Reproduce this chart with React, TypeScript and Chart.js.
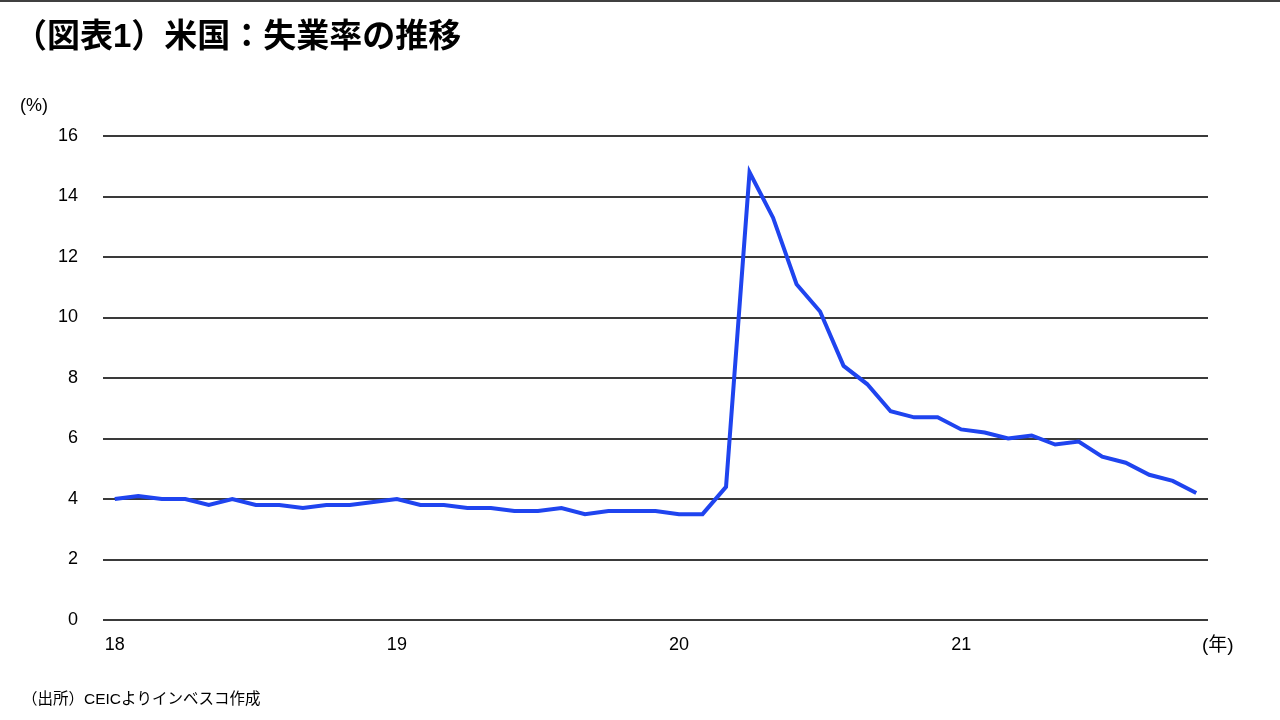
import React, { useEffect, useRef } from "react";
import { Chart, registerables } from "chart.js";

Chart.register(...registerables);

const months: string[] = [
  "2018-01","2018-02","2018-03","2018-04","2018-05","2018-06","2018-07","2018-08","2018-09","2018-10","2018-11","2018-12",
  "2019-01","2019-02","2019-03","2019-04","2019-05","2019-06","2019-07","2019-08","2019-09","2019-10","2019-11","2019-12",
  "2020-01","2020-02","2020-03","2020-04","2020-05","2020-06","2020-07","2020-08","2020-09","2020-10","2020-11","2020-12",
  "2021-01","2021-02","2021-03","2021-04","2021-05","2021-06","2021-07","2021-08","2021-09","2021-10","2021-11",
];

const unemployment: number[] = [
  4.0, 4.1, 4.0, 4.0, 3.8, 4.0, 3.8, 3.8, 3.7, 3.8, 3.8, 3.9,
  4.0, 3.8, 3.8, 3.7, 3.7, 3.6, 3.6, 3.7, 3.5, 3.6, 3.6, 3.6,
  3.5, 3.5, 4.4, 14.8, 13.3, 11.1, 10.2, 8.4, 7.8, 6.9, 6.7, 6.7,
  6.3, 6.2, 6.0, 6.1, 5.8, 5.9, 5.4, 5.2, 4.8, 4.6, 4.2,
];

const yTicks: number[] = [0, 2, 4, 6, 8, 10, 12, 14, 16];

const title = "（図表1）米国：失業率の推移";
const yUnit = "(%)";
const xUnit = "(年)";
const source = "（出所）CEICよりインベスコ作成";

const JP = '"Liberation Sans", Arial, "Noto Sans CJK JP", sans-serif';

export default function App() {
  const ref = useRef<HTMLCanvasElement | null>(null);

  useEffect(() => {
    if (!ref.current) return;
    const decor = {
      id: "decor",
      afterDraw(chart: any) {
        const ctx = chart.ctx as CanvasRenderingContext2D;
        ctx.save();
        ctx.strokeStyle = "#000";
        ctx.lineWidth = 1.5;
        ctx.beginPath();
        ctx.moveTo(0, 1);
        ctx.lineTo(1280, 1);
        ctx.stroke();
        ctx.fillStyle = "#000";
        ctx.textBaseline = "middle";
        ctx.textAlign = "left";
        ctx.font = `bold 33px ${JP}`;
        ctx.fillText(title, 14, 38);
        ctx.font = `18px ${JP}`;
        ctx.fillText(yUnit, 20, 106);
        ctx.font = `19px ${JP}`;
        ctx.fillText(xUnit, 1202, 646);
        ctx.font = `15.5px ${JP}`;
        ctx.fillText(source, 22, 700);
        ctx.restore();
      },
    };

    const chart = new Chart(ref.current, {
      type: "line",
      data: {
        labels: months,
        datasets: [
          {
            data: unemployment,
            borderColor: "#1f44ef",
            borderWidth: 4,
            pointRadius: 0,
            tension: 0,
            fill: false,
          },
        ],
      },
      options: {
        responsive: false,
        animation: false,
        layout: { padding: { left: 0, right: 72, top: 136, bottom: 0 } },
        plugins: { legend: { display: false }, tooltip: { enabled: false } },
        scales: {
          x: {
            offset: true,
            grid: { display: false, drawTicks: false },
            border: { display: false },
            afterFit: (s: any) => { s.height = 100; },
            ticks: {
              autoSkip: false,
              maxRotation: 0,
              padding: 14,
              color: "#000",
              font: { family: '"Liberation Sans", Arial, sans-serif', size: 18 },
              callback: (_v: any, i: number) => {
                const m = months[i];
                return m.endsWith("-01") ? m.slice(2, 4) : "";
              },
            },
          },
          y: {
            min: 0,
            max: 16,
            afterFit: (s: any) => { s.width = 103; },
            afterBuildTicks: (s: any) => { s.ticks = yTicks.map((v) => ({ value: v })); },
            grid: { color: "#3a3a3a", lineWidth: 2, drawTicks: false },
            border: { display: false },
            ticks: {
              padding: 25,
              color: "#000",
              font: { family: '"Liberation Sans", Arial, sans-serif', size: 18 },
            },
          },
        },
      },
      plugins: [decor],
    });
    return () => chart.destroy();
  }, []);

  return (
    <canvas
      ref={ref}
      width={1280}
      height={720}
      style={{ position: "fixed", left: 0, top: 0, width: 1280, height: 720, background: "#fff" }}
    />
  );
}
